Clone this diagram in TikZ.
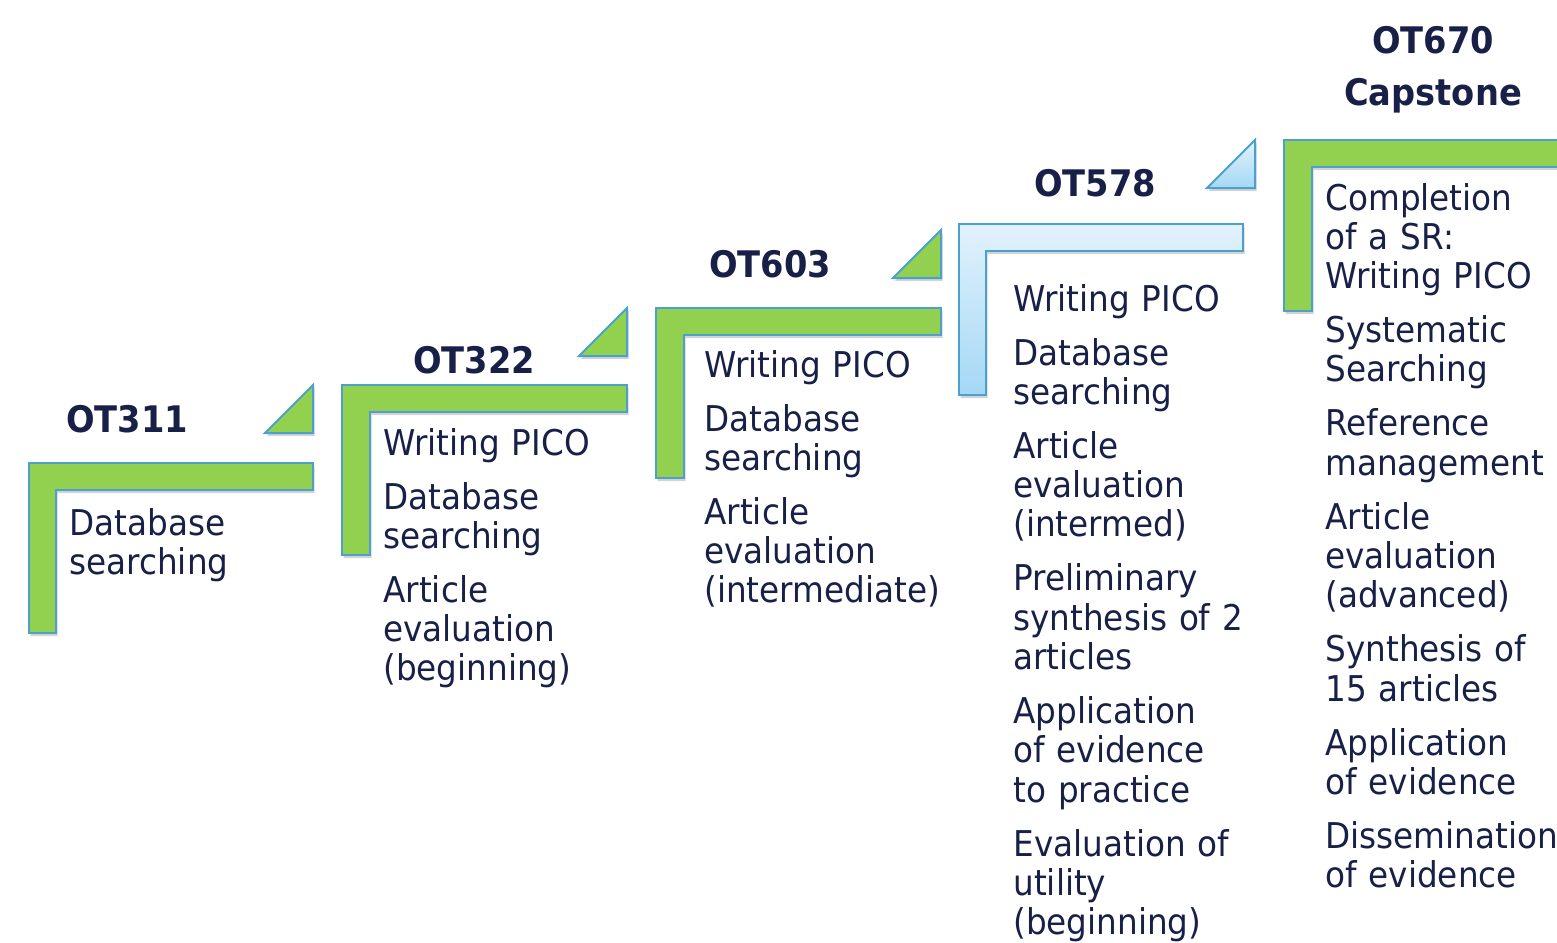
\documentclass[tikz,border=0pt]{standalone}
\usepackage{fontspec}
\setmainfont{DejaVu Sans}[FakeStretch=0.92]
\usetikzlibrary{shadows}

\definecolor{stepgreen}{RGB}{146,208,80}
\definecolor{stepedge}{RGB}{75,160,205}
\definecolor{steptext}{RGB}{24,32,72}
\definecolor{paletop}{RGB}{226,242,252}
\definecolor{palebot}{RGB}{164,216,245}
\newcommand{\topicgap}{7.35pt}

\begin{document}
\begin{tikzpicture}[x=0.5pt, y=-0.5pt,
    stair/.style={draw=stepedge, line width=1pt, fill=stepgreen,
        drop shadow={opacity=0.35, shadow xshift=0.8pt, shadow yshift=-1.6pt}},
    pale/.style={top color=paletop, bottom color=palebot},
    course/.style={font=\bfseries\fontsize{18.3pt}{26pt}\selectfont, text=steptext,
        anchor=base, align=center, text width=120pt, inner sep=0pt},
    topics/.style={font=\fontsize{17.75pt}{19.65pt}\selectfont, text=steptext,
        anchor=base west, align=left, text width=130pt, inner sep=0pt}]
    \useasboundingbox (0,0) rectangle (1557,942);

    % OT311
    \begin{scope}[shift={(29,463)}]
        \draw[stair] (0,0) -- (284,0) -- (284,27) -- (27,27) -- (27,170) -- (0,170) -- cycle;
        \draw[stair] (284,-30) -- (284,-78) -- (236,-30) -- cycle;
        \node[course] (ot311) at (98,-31) {OT311};
        \node[topics] (ot311-topics) at (40,72) {Database\\searching};
    \end{scope}

    % OT322
    \begin{scope}[shift={(342,385)}]
        \draw[stair] (0,0) -- (285,0) -- (285,27) -- (28,27) -- (28,170) -- (0,170) -- cycle;
        \draw[stair] (285,-29) -- (285,-77) -- (237,-29) -- cycle;
        \node[course] (ot322) at (132,-12) {OT322};
        \node[topics] (ot322-topics) at (41,70) {Writing PICO\\[\topicgap]
            Database\\searching\\[\topicgap]
            Article\\evaluation\\(beginning)};
    \end{scope}

    % OT603
    \begin{scope}[shift={(656,308)}]
        \draw[stair] (0,0) -- (285,0) -- (285,27) -- (28,27) -- (28,170) -- (0,170) -- cycle;
        \draw[stair] (285,-30) -- (285,-78) -- (237,-30) -- cycle;
        \node[course] (ot603) at (114,-31) {OT603};
        \node[topics] (ot603-topics) at (48,69) {Writing PICO\\[\topicgap]
            Database\\searching\\[\topicgap]
            Article\\evaluation\\(intermediate)};
    \end{scope}

    % OT578
    \begin{scope}[shift={(959,224)}]
        \draw[stair, pale] (0,0) -- (284,0) -- (284,27) -- (27,27) -- (27,171) -- (0,171) -- cycle;
        \draw[stair, pale] (296,-36) -- (296,-84) -- (248,-36) -- cycle;
        \node[course] (ot578) at (136,-28) {OT578};
        \node[topics] (ot578-topics) at (54,87) {Writing PICO\\[\topicgap]
            Database\\searching\\[\topicgap]
            Article\\evaluation\\(intermed)\\[\topicgap]
            Preliminary\\synthesis of 2\\articles\\[\topicgap]
            Application\\of evidence\\to practice\\[\topicgap]
            Evaluation of\\utility\\(beginning)};
    \end{scope}

    % OT670
    \begin{scope}[shift={(1284,140)}]
        \draw[stair] (0,0) -- (300,0) -- (300,27) -- (28,27) -- (28,171) -- (0,171) -- cycle;
        \node[course] (ot670) at (149,-87) {OT670\\Capstone};
        \node[topics] (ot670-topics) at (41,70) {Completion\\of a SR:\\Writing PICO\\[\topicgap]
            Systematic\\Searching\\[\topicgap]
            Reference\\management\\[\topicgap]
            Article\\evaluation\\(advanced)\\[\topicgap]
            Synthesis of\\15 articles\\[\topicgap]
            Application\\of evidence\\[\topicgap]
            Dissemination\\of evidence};
    \end{scope}
\end{tikzpicture}
\end{document}
